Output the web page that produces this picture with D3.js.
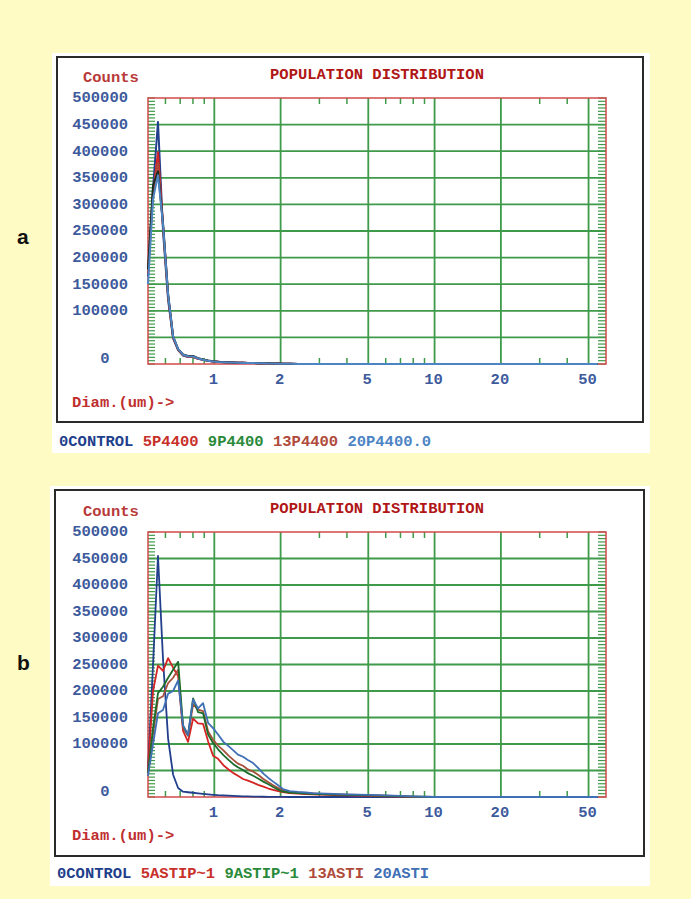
<!DOCTYPE html>
<html><head><meta charset="utf-8">
<script src="https://cdn.jsdelivr.net/npm/d3@7"></script>
<style>body{margin:0;background:#fffbc4;} svg{display:block}</style>
</head><body><svg id="c" width="691" height="899"></svg>
<script>
// ---------- DATA ----------
const diameters = [0.500,0.527,0.555,0.585,0.617,0.650,0.685,0.721,0.760,0.801,0.844,0.889,0.937,0.987,1.04,1.10,1.16,1.22,1.28,1.35,1.42,1.50,1.58,1.67,1.76,1.85,1.95,2.05,2.2,2.4,2.6,2.8,3.0,3.5,4.0,4.5,5.0,6.0,7.0,8.0,10,15,20,30,40,50,55];

const namesA = ["0CONTROL","5P4400","9P4400","13P4400","20P4400.0"];
const namesB = ["0CONTROL","5ASTIP~1","9ASTIP~1","13ASTI","20ASTI"];

const a_control = [165000,330000,455000,250000,120000,48000,26000,16000,13000,13000,10000,8000,6000,4500,4000,3500,3000,2700,2400,2200,2000,1800,1600,1400,1200,1000,800,600,400,200,0,0,0,0,0,0,0,0,0,0,0,0,0,0,0,0,0];
const a_5 = [170000,320000,398000,260000,128000,50000,27000,17000,14000,13000,10000,8000,6000,4500,4000,3500,3000,2700,2400,2200,2000,1800,1600,1400,1200,1000,800,600,400,200,0,0,0,0,0,0,0,0,0,0,0,0,0,0,0,0,0];
const a_9 = [178000,335000,362000,265000,132000,52000,28000,18000,15000,15000,11000,8500,6500,5000,4200,3600,3100,2800,2500,2200,2000,1800,1600,1400,1200,1000,800,600,400,200,0,0,0,0,0,0,0,0,0,0,0,0,0,0,0,0,0];
const a_13 = [172000,325000,378000,258000,126000,50000,27000,17000,14000,14000,10500,8200,6200,4700,4000,3500,3000,2700,2400,2200,2000,1800,1600,1400,1200,1000,800,600,400,200,0,0,0,0,0,0,0,0,0,0,0,0,0,0,0,0,0];
const a_20 = [150000,310000,355000,262000,130000,52000,28000,17500,14500,14000,10500,8000,6000,4500,3800,3300,2900,2600,2300,2100,1900,1700,1500,1300,1100,900,700,500,300,100,0,0,0,0,0,0,0,0,0,0,0,0,0,0,0,0,0];

const b_control = [50000,250000,455000,260000,110000,42000,17000,10000,9000,8000,7000,6000,5000,4200,3500,3000,2500,2000,1600,1300,1000,800,600,500,400,300,200,100,0,0,0,0,0,0,0,0,0,0,0,0,0,0,0,0,0,0,0];
const b_5 = [50000,200000,248000,238000,262000,244000,228000,125000,104000,148000,139000,138000,105000,78000,72000,60000,52000,45000,40000,34000,31000,27000,23000,19500,16000,13500,11000,9000,7500,6500,5500,5000,4500,3500,3000,2500,2000,1200,800,400,0,0,0,0,0,0,0];
const b_9 = [45000,130000,196000,208000,225000,240000,255000,135000,117000,186000,160000,158000,118000,102000,90000,79000,70000,62000,56000,51000,45000,40000,35000,29000,24000,19000,14000,10000,8500,7500,6500,6000,5500,4500,4000,3500,3000,2000,1200,600,0,0,0,0,0,0,0];
const b_13 = [45000,120000,185000,190000,215000,225000,240000,130000,115000,175000,165000,162000,124000,108000,97000,88000,78000,70000,63000,59000,52000,48000,42000,34000,28000,22000,17000,12000,10000,8500,7500,7000,6000,5000,4500,4000,3500,2500,1500,800,0,0,0,0,0,0,0];
const b_20 = [40000,100000,158000,164000,195000,200000,220000,135000,117000,184000,167000,177000,140000,130000,118000,104000,96000,88000,80000,76000,70000,64000,55000,44000,36000,29000,22000,15000,11000,9500,8500,7500,7000,6000,5000,4500,4000,3000,2000,1000,0,0,0,0,0,0,0];

const xTickLabels = [1,2,5,10,20,50];
const xMinorTicks = [0.6,0.7,0.8,0.9,3,4,6,7,8,9,30,40];
const yTickLabels = [500000,450000,400000,350000,300000,250000,200000,150000,100000];
const yGridValues = [50000,100000,150000,200000,250000,300000,350000,400000,450000];

// ---------- STYLE ----------
const lineColors = ["#223f8c","#d42424","#1d6b2a","#b04a3a","#4d84c4"];
const legendColors = ["#223f8c","#c8302a","#2a8a3a","#b04a3a","#4d84c4"];
const lineColorsB = ["#223f8c","#d42424","#1d6b2a","#a8503c","#3f6fb5"];
const legendColorsB = ["#223f8c","#c8302a","#2a8a3a","#b04a3a","#3f6fb5"];
const FONT = "'Liberation Mono', 'DejaVu Sans Mono', monospace";
const GRID = "#3f9a4a";

const svg = d3.select("#c");

function panel(cfg) {
  const g = svg.append("g");
  g.append("rect").attr("x", cfg.bg[0]).attr("y", cfg.bg[1]).attr("width", cfg.bg[2]).attr("height", cfg.bg[3]).attr("fill", "#ffffff");
  g.append("rect").attr("x", cfg.box[0]).attr("y", cfg.box[1]).attr("width", cfg.box[2]).attr("height", cfg.box[3])
    .attr("fill", "none").attr("stroke", "#2a2a2a").attr("stroke-width", 2);

  const x = d3.scaleLog().domain([0.5, 60]).range([148, 606]);
  const y = d3.scaleLinear().domain([0, 500000]).range([cfg.bottom, cfg.top]);

  // grid
  g.append("g").selectAll("line").data(yGridValues).join("line")
    .attr("x1", 148).attr("x2", 606).attr("y1", d => y(d)).attr("y2", d => y(d))
    .attr("stroke", GRID).attr("stroke-width", 1.8);
  g.append("g").selectAll("line").data(xTickLabels).join("line")
    .attr("x1", d => x(d)).attr("x2", d => x(d)).attr("y1", cfg.top).attr("y2", cfg.bottom)
    .attr("stroke", GRID).attr("stroke-width", 1.8);

  // minor y ticks left and right
  const yMinor = d3.range(0, 500001, 6250);
  g.append("g").selectAll("line").data(yMinor).join("line")
    .attr("x1", 148).attr("x2", 155).attr("y1", d => y(d)).attr("y2", d => y(d))
    .attr("stroke", GRID).attr("stroke-width", 1.2);
  g.append("g").selectAll("line").data(yMinor).join("line")
    .attr("x1", 598).attr("x2", 606).attr("y1", d => y(d)).attr("y2", d => y(d))
    .attr("stroke", GRID).attr("stroke-width", 1.2);
  // minor x ticks top/bottom
  g.append("g").selectAll("line").data(xMinorTicks).join("line")
    .attr("x1", d => x(d)).attr("x2", d => x(d)).attr("y1", cfg.top).attr("y2", cfg.top + 6)
    .attr("stroke", GRID).attr("stroke-width", 1.5);
  g.append("g").selectAll("line").data(xMinorTicks).join("line")
    .attr("x1", d => x(d)).attr("x2", d => x(d)).attr("y1", cfg.bottom).attr("y2", cfg.bottom - 6)
    .attr("stroke", GRID).attr("stroke-width", 1.5);

  // frame
  g.append("rect").attr("x", 148).attr("y", cfg.top).attr("width", 458).attr("height", cfg.bottom - cfg.top)
    .attr("fill", "none").attr("stroke", "#d24a4a").attr("stroke-width", 1.5);

  // series
  const line = d3.line().x((d, i) => x(diameters[i])).y(d => y(d));
  cfg.series.forEach((s, k) => {
    g.append("path").datum(s).attr("d", line).attr("fill", "none")
      .attr("stroke", cfg.colors[k]).attr("stroke-width", cfg.lw).attr("stroke-linejoin", "round");
  });

  // y labels
  g.append("g").selectAll("text").data(yTickLabels).join("text")
    .attr("x", 128).attr("y", d => y(d) - 1).attr("dy", "0.35em").attr("text-anchor", "end")
    .attr("font-family", FONT).attr("font-weight", "bold").attr("font-size", 15.5).attr("fill", "#3d5a9c")
    .text(d => d);
  g.append("text").attr("x", 105).attr("y", y(0) - 6).attr("dy", "0.35em").attr("text-anchor", "middle")
    .attr("font-family", FONT).attr("font-weight", "bold").attr("font-size", 15.5).attr("fill", "#3d5a9c").text("0");

  // x labels
  g.append("g").selectAll("text").data(xTickLabels).join("text")
    .attr("x", d => x(d) - 1).attr("y", cfg.bottom + 15).attr("dy", "0.35em").attr("text-anchor", "middle")
    .attr("font-family", FONT).attr("font-weight", "bold").attr("font-size", 15.5).attr("fill", "#3d5a9c")
    .text(d => d);

  // titles
  g.append("text").attr("x", 83).attr("y", cfg.top - 21).attr("dy", "0.35em")
    .attr("font-family", FONT).attr("font-weight", "bold").attr("font-size", 15.5).attr("fill", "#b83a3a").text("Counts");
  g.append("text").attr("x", 377).attr("y", cfg.top - 24).attr("dy", "0.35em").attr("text-anchor", "middle")
    .attr("font-family", FONT).attr("font-weight", "bold").attr("font-size", 15.5).attr("fill", "#b01616").text("POPULATION DISTRIBUTION");
  g.append("text").attr("x", 72).attr("y", cfg.bottom + 38).attr("dy", "0.35em")
    .attr("font-family", FONT).attr("font-weight", "bold").attr("font-size", 15.5).attr("fill", "#c03030").text("Diam.(um)->");

  // legend
  const lt = g.append("text").attr("x", cfg.legendX).attr("y", cfg.legendY).attr("dy", "0.35em")
    .attr("font-family", FONT).attr("font-weight", "bold").attr("font-size", 15.5).attr("xml:space", "preserve");
  cfg.names.forEach((n, k) => {
    lt.append("tspan").attr("fill", cfg.legendColors[k]).text((k ? " " : "") + n);
  });

  // panel letter
  svg.append("text").attr("x", 17).attr("y", cfg.letterY).attr("dy", "0.35em")
    .attr("font-family", "'Liberation Sans', Arial, sans-serif").attr("font-weight", "bold").attr("font-size", 21)
    .attr("fill", "#111").text(cfg.letter);
}

panel({bg:[52,53,598,400], box:[57,57,586,365], top:98, bottom:364,
  series:[a_control,a_5,a_13,a_9,a_20], colors:[lineColors[0],lineColors[1],lineColors[3],"#1a2a1e",lineColors[4]],
  lw:2, names:namesA, legendColors:legendColors, legendX:59, legendY:441, letter:"a", letterY:237});
panel({bg:[50,486,600,400], box:[55,490,589,366], top:532, bottom:797,
  series:[b_control,b_5,b_13,b_9,b_20], colors:[lineColorsB[0],lineColorsB[1],lineColorsB[3],lineColorsB[2],lineColorsB[4]],
  lw:1.8, names:namesB, legendColors:legendColorsB, legendX:57, legendY:873, letter:"b", letterY:663});
</script></body></html>
